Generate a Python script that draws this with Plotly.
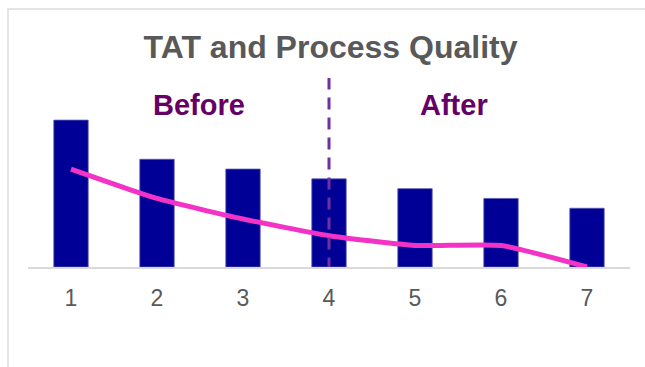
import plotly.graph_objects as go

categories = [1, 2, 3, 4, 5, 6, 7]
tat_values = [15, 11, 10, 9, 8, 7, 6]
quality_values = [10, 7, 4.9, 3.2, 2.2, 2.2, 0]
tick_labels = ["1", "2", "3", "4", "5", "6", "7"]

W, H = 645, 367
L, R, T, B = 28, 15, 78, 100
plot_w = W - L - R
plot_h = H - T - B
y_max = 19.3

fig = go.Figure()
fig.add_trace(go.Bar(
    x=categories, y=tat_values, width=0.4,
    marker=dict(color="#000096", line=dict(color="#5a5ab4", width=0.8)),
    showlegend=False, hoverinfo="skip",
))
fig.add_trace(go.Scatter(
    x=categories, y=quality_values, mode="lines",
    line=dict(color="#F233C6", width=5, shape="spline", smoothing=0.5),
    showlegend=False, hoverinfo="skip",
))

fig.add_shape(type="line", xref="x", yref="y", x0=4, x1=4, y0=-0.25, y1=y_max,
              line=dict(color="#7030A0", width=3, dash="12px,8px"), layer="above")

px_to_xpaper = lambda px: (px - L) / plot_w
py_to_ypaper = lambda py: (H - B - py) / plot_h
fig.add_shape(type="rect", xref="paper", yref="paper",
              x0=px_to_xpaper(8), x1=px_to_xpaper(W + 20),
              y0=py_to_ypaper(H + 20), y1=py_to_ypaper(9),
              line=dict(color="#E4E4E4", width=2), fillcolor="rgba(0,0,0,0)", layer="below")

fig.add_annotation(text="<b>Before</b>", x=2.49, y=py_to_ypaper(105), xref="x", yref="paper",
                   showarrow=False, font=dict(family="Liberation Sans, Arial", size=29, color="#660066"),
                   xanchor="center", yanchor="middle")
fig.add_annotation(text="<b>After</b>", x=5.45, y=py_to_ypaper(105), xref="x", yref="paper",
                   showarrow=False, font=dict(family="Liberation Sans, Arial", size=29, color="#660066"),
                   xanchor="center", yanchor="middle")

fig.update_layout(
    width=W, height=H,
    margin=dict(l=L, r=R, t=T, b=B, pad=0),
    paper_bgcolor="white", plot_bgcolor="white",
    title=dict(text="<b>TAT and Process Quality</b>", x=330.5 / W,
               xanchor="center", y=1 - 46.5 / H, yanchor="middle",
               font=dict(family="Liberation Sans, Arial", size=32, color="#595959")),
    xaxis=dict(range=[0.5, 7.5], tickvals=categories, ticktext=tick_labels,
               showgrid=False, zeroline=False, showline=True, linecolor="#D9D9D9", linewidth=2,
               ticks="outside", ticklen=9, tickcolor="rgba(0,0,0,0)",
               tickfont=dict(family="Liberation Sans, Arial", size=23, color="#595959")),
    yaxis=dict(range=[0, y_max], visible=False, showgrid=False, zeroline=False),
    bargap=0.6,
)

fig.write_html("out.html")
